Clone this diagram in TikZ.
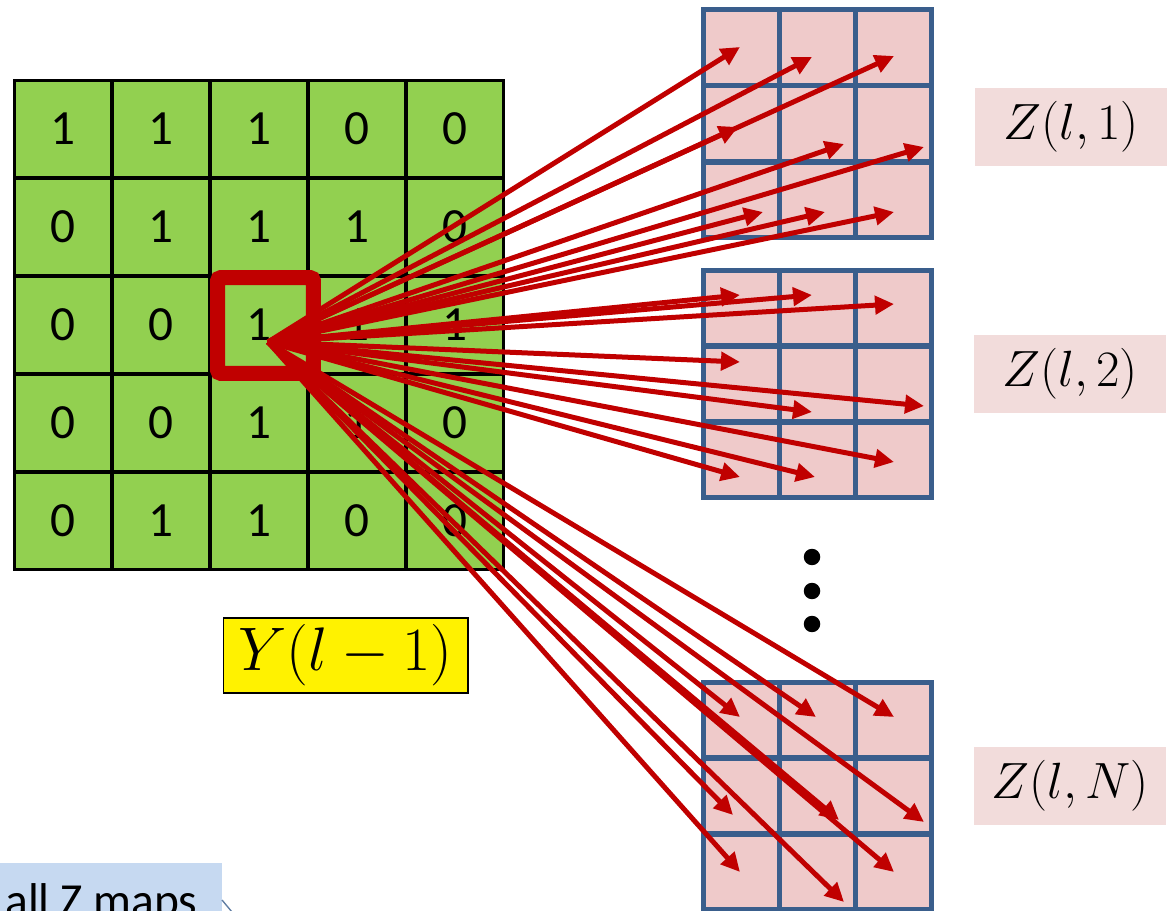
\RequirePackage{fix-cm}
\documentclass[tikz,border=0pt]{standalone}
\usepackage[no-math]{fontspec}
\setmainfont{Carlito}
\usetikzlibrary{arrows.meta}
\definecolor{cellgreen}{HTML}{92D050}
\definecolor{cellpink}{HTML}{EFCACA}
\definecolor{labelpink}{HTML}{F2DCDB}
\definecolor{gridblue}{HTML}{3A5E8C}
\definecolor{arrowred}{HTML}{C00000}
\definecolor{callblue}{HTML}{C6D9F1}
\tikzset{
    gcell/.style={
        draw=black,
        line width=0.06cm,
        fill=cellgreen,
        minimum size=1.96cm,
        inner sep=0pt,
        font=\fontsize{28}{32}\selectfont
    },
    pcell/.style={
        draw=gridblue,
        line width=0.1cm,
        fill=cellpink,
        minimum size=1.52cm,
        inner sep=0pt
    },
    zlabel/.style={
        fill=labelpink,
        minimum width=3.86cm,
        minimum height=1.56cm,
        inner sep=0pt,
        font=\fontsize{29}{33}\selectfont
    },
    conn/.style={
        draw=arrowred,
        line width=0.1cm,
        -{Triangle[length=0.38cm, width=0.36cm]}
    }
}
\begin{document}
\begin{tikzpicture}[
    x=0.02cm, y=-0.02cm,
    focusbox/.style={draw=arrowred, line width=0.3cm, rounded corners=2pt, minimum size=1.92cm, inner sep=0pt},
    vdot/.style={circle, fill=black, minimum size=0.33cm, inner sep=0pt},
    ybox/.style={draw=black, line width=0.6pt, fill=yellow, minimum width=4.9cm, minimum height=1.5cm, inner sep=0pt, font=\fontsize{35}{40}\selectfont}
]
\useasboundingbox (0,0) rectangle (1176,911);
\clip (0,0) rectangle (1176,911);
% input map Y(l-1)
\foreach \row [count=\r] in {{1,1,1,0,0},{0,1,1,1,0},{0,0,1,1,1},{0,0,1,1,0},{0,1,1,0,0}} {
    \foreach \v [count=\c] in \row {
        \node[gcell] (g-\r-\c) at ({14+98*\c-49},{80+98*\r-49}) {\v};
    }
}
\node[focusbox] (focus) at (265.5,325.5) {};
\node[ybox] (ylab) at (345.5,655.5) {$Y(l-1)$};
% output maps Z(l,n)
\foreach \g/\top in {1/10, 2/270, N/682} {
    \foreach \r in {1,2,3} {
        \foreach \c in {1,2,3} {
            \node[pcell] (z\g-\r-\c) at ({703+76*\c-38},{\top+76*\r-38}) {};
        }
    }
}
\node[zlabel] (zl1) at (1071,127) {$Z(l,1)$};
\node[zlabel] (zl2) at (1070,374) {$Z(l,2)$};
\node[zlabel] (zlN) at (1070,786) {$Z(l,N)$};
\node[vdot] (d1) at (812,557) {};
\node[vdot] (d2) at (812,591) {};
\node[vdot] (d3) at (812,624) {};
% connections
\coordinate (src) at (268,342);
\foreach \x/\y [count=\i] in {740/47, 812/57, 894/56, 738/127, 844/144, 924/147, 763/212, 825/212, 894/212,
    740/295, 812/295, 894/304, 740/362, 924/406, 812/412, 894/462, 740/477, 815/477,
    740/717, 816/717, 894/717, 733/815, 839/820, 924/822, 740/872, 844/902, 894/872} {
    \coordinate (t\i) at (\x,\y);
    \draw[conn] (src) -- (t\i);
}
% callout at the bottom
\fill[callblue] (0,863) rectangle (222,930);
\node[anchor=base west, inner sep=0pt, font=\fontsize{27}{31}\selectfont] (allz) at (5,916) {all Z maps};
\draw[gridblue!80, line width=0.8pt] (222,900) -- (232,912);
\end{tikzpicture}
\end{document}
